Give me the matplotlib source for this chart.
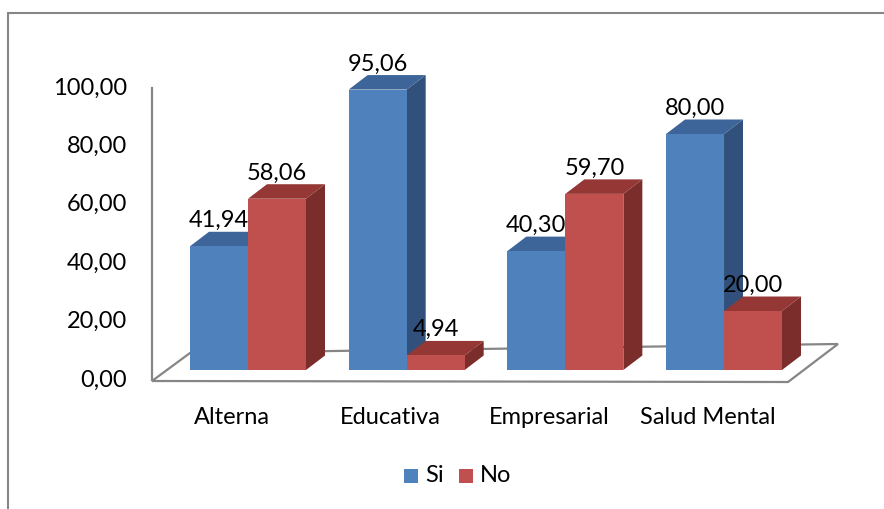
import matplotlib
matplotlib.use('Agg')
import matplotlib.pyplot as plt
from matplotlib.patches import Polygon, Rectangle

categorias = ['Alterna', 'Educativa', 'Empresarial', 'Salud Mental']
si = [41.94, 95.06, 40.30, 80.00]
no = [58.06, 4.94, 59.70, 20.00]
series = ['Si', 'No']
ticks = [0, 20, 40, 60, 80, 100]

# colores: frente, tapa, lateral
azul = ('#4F81BD', '#3D6599', '#31517C')
rojo = ('#C0504D', '#943735', '#7B2D2C')

W, H = 884, 509
fig = plt.figure(figsize=(W / 100, H / 100), dpi=100)
ax = fig.add_axes([0, 0, 1, 1])

# escala: 1 categoria = 158.67 px, 1 unidad = 2.95 px
sx, sy = 158.67, 2.95
x0, y0 = 248, 370
ax.set_xlim(-x0 / sx, (W - x0) / sx)
ax.set_ylim((y0 - H) / sy, y0 / sy)
ax.axis('off')

def px(x, y):
    return ((x - x0) / sx, (y0 - y) / sy)

fuente = 'Lato'
fs = 17
gris = '#868686'

# suelo
suelo = Polygon([px(152, 381), px(788, 382), px(838, 344), px(190, 353)],
                closed=True, fill=False, edgecolor=gris, lw=1.6, zorder=1)
ax.add_patch(suelo)

# eje vertical
xa = px(152, 0)[0]
esc = 2.92 / sy
off = (y0 - 380) / sy
ax.plot([xa, xa], [off, off + 100 * esc], color=gris, lw=1.6, zorder=1)
for t in ticks:
    ax.text(px(127, 0)[0], off + t * esc, f'{t:.2f}'.replace('.', ','),
            ha='right', va='center', fontsize=fs, family=fuente)

w = 58 / sx
dx, dy = 19 / sx, 14.5 / sy

def barra(x, v, cols):
    front, top, side = cols
    ax.add_patch(Polygon([(x + w, 0), (x + w + dx, dy), (x + w + dx, v + dy), (x + w, v)],
                         closed=True, facecolor=side, edgecolor='none', zorder=2))
    ax.add_patch(Polygon([(x, v), (x + dx, v + dy), (x + w + dx, v + dy), (x + w, v)],
                         closed=True, facecolor=top, edgecolor='none', zorder=2))
    ax.bar(x, v, width=w, align='edge', color=front, edgecolor='none', zorder=2)
    ax.text(x + w / 2, v + dy + 1.6, f'{v:.2f}'.replace('.', ','),
            ha='center', va='baseline', fontsize=fs, family=fuente, zorder=3)

for i, cat in enumerate(categorias):
    barra(i - w, si[i], azul)
    barra(i, no[i], rojo)
    ax.text(i - 16 / sx, (y0 - 417) / sy, cat, ha='center', va='center',
            fontsize=fs, family=fuente)

# leyenda
for j, (nom, col) in enumerate(zip(series, [azul[0], rojo[0]])):
    bx = 404 + 55 * j
    ax.add_patch(Rectangle(px(bx, 483), 14 / sx, 14 / sy, facecolor=col,
                           edgecolor='none'))
    ax.text(px(bx + 21, 0)[0], (y0 - 476) / sy, nom, ha='left', va='center',
            fontsize=fs, family=fuente)

# marco
fig.add_artist(Rectangle((8 / W, -0.1), 1.2, 1.1 - 13 / H, transform=fig.transFigure,
                         fill=False, edgecolor=gris, lw=1.5))

fig.savefig('out.png', dpi=100)
